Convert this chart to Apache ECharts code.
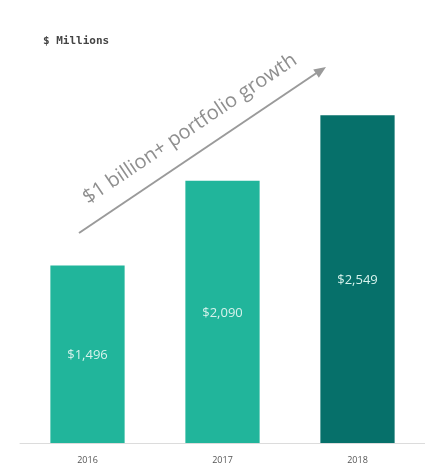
<!DOCTYPE html>
<html>
<head>
<meta charset="utf-8">
<style>
  html, body { margin: 0; padding: 0; background: #ffffff; }
  #chart { width: 425px; height: 465px; }
</style>
<script src="https://cdn.jsdelivr.net/npm/echarts@6/dist/echarts.min.js"></script>
</head>
<body>
<div id="chart"></div>
<script>
// Portfolio size by year, in $ millions
const years = ['2016', '2017', '2018'];
const portfolio = [1496, 2090, 2549];
const barColors = ['#21b59b', '#21b59b', '#06706a'];
const unitTitle = '$ Millions';
const growthNote = '$1 billion+ portfolio growth';

const chart = echarts.init(document.getElementById('chart'), null, { renderer: 'canvas' });

const arrowColor = '#9a9a9a';
const angle = Math.atan2(233 - 67, 325 - 79);

chart.setOption({
  animation: false,
  backgroundColor: '#ffffff',
  title: {
    text: unitTitle,
    left: 38,
    top: 31,
    textStyle: {
      fontFamily: 'DejaVu Sans Mono',
      fontSize: 11,
      fontWeight: 'bold',
      color: '#454545'
    }
  },
  grid: { left: 20, right: 0, top: 51, bottom: 22, containLabel: false },
  xAxis: {
    type: 'category',
    data: years,
    axisLine: { show: true, lineStyle: { color: '#dcdcdc', width: 1 } },
    axisTick: { show: false },
    axisLabel: {
      margin: 13,
      fontFamily: 'Open Sans',
      fontSize: 9,
      color: '#555555'
    }
  },
  yAxis: {
    type: 'value',
    min: 250,
    max: 3000,
    show: false,
    splitLine: { show: false }
  },
  series: [{
    type: 'bar',
    barWidth: '55%',
    data: portfolio.map((v, i) => ({ value: v, itemStyle: { color: barColors[i] } })),
    label: {
      show: true,
      position: 'inside',
      offset: [0, 1],
      fontFamily: 'Open Sans',
      fontSize: 13,
      color: '#d6f2ec',
      formatter: p => '$' + p.value.toLocaleString('en-US')
    }
  }],
  graphic: [
    {
      type: 'line',
      shape: { x1: 79, y1: 233, x2: 318, y2: 72 },
      style: { stroke: arrowColor, lineWidth: 2 },
      silent: true
    },
    {
      type: 'polygon',
      x: 326, y: 67,
      rotation: angle,
      shape: { points: [[0, 0], [-12, -5], [-12, 5]] },
      style: { fill: arrowColor },
      silent: true
    },
    {
      type: 'text',
      x: 190, y: 129,
      rotation: angle,
      style: {
        text: growthNote,
        x: 0, y: 0,
        align: 'center',
        verticalAlign: 'middle',
        fontFamily: 'Open Sans',
        fontSize: 20,
        fill: '#8f8f8f'
      },
      silent: true
    }
  ]
});
</script>
</body>
</html>
